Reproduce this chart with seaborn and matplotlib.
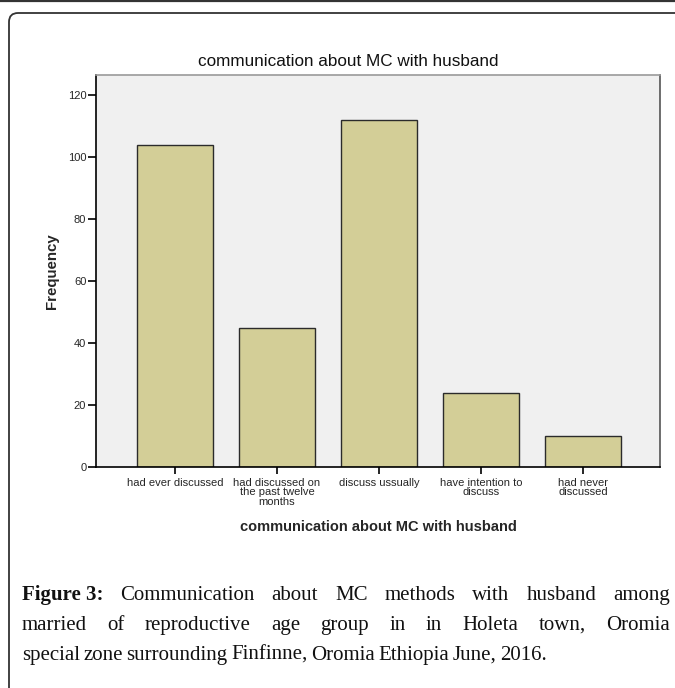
import matplotlib
matplotlib.use("Agg")
import matplotlib.pyplot as plt
import seaborn as sns
from matplotlib.patches import FancyBboxPatch
from matplotlib.lines import Line2D
from matplotlib.transforms import IdentityTransform

# data
categories = ["had ever discussed",
              "had discussed on\nthe past twelve\nmonths",
              "discuss ussually",
              "have intention to\ndiscuss",
              "had never\ndiscussed"]
frequency = [104, 45, 112, 24, 10]
yticks = [0, 20, 40, 60, 80, 100, 120]

title = "communication about MC with husband"
caption_lines = [
    [("Figure 3:", "bold"), ("Communication", "normal"), ("about", "normal"),
     ("MC", "normal"), ("methods", "normal"), ("with", "normal"),
     ("husband", "normal"), ("among", "normal")],
    [(w, "normal") for w in "married of reproductive age group in in Holeta town, Oromia".split()],
    [(w, "normal") for w in "special zone surrounding Finfinne, Oromia Ethiopia June, 2016.".split()],
]

W, H = 675, 688
sns.set_style("white")
plt.rcParams["font.family"] = ["Liberation Sans", "DejaVu Sans"]

fig = plt.figure(figsize=(W / 100, H / 100), dpi=100)
fig.patch.set_facecolor("white")

# outer frame (top rule + rounded box)
fig.add_artist(Line2D([0, W], [H - 1, H - 1], transform=IdentityTransform(),
                      color="#333333", lw=1.6))
frame = FancyBboxPatch((9, -40), W + 40, H - 13 + 40,
                       boxstyle="round,pad=0,rounding_size=9",
                       transform=IdentityTransform(), fc="none",
                       ec="#333333", lw=1.3)
fig.add_artist(frame)

ax = fig.add_axes([96 / W, 1 - 467 / H, (660 - 96) / W, (467 - 75) / H])
ax.set_facecolor("#F0F0F0")

sns.barplot(x=categories, y=frequency, ax=ax, color="#D3CE97",
            saturation=1, width=0.745, edgecolor="#2b2b2b", linewidth=1.0)

ax.set_xlim(-0.775, 4.755)
ax.set_ylim(0, 126.5)
ax.set_yticks(yticks)
ax.tick_params(axis="both", direction="out", length=5.5, width=1.2,
               color="black", labelsize=8, pad=1.5, bottom=True, left=True)
ax.tick_params(axis="x", length=5, pad=3)
for lab in ax.get_xticklabels():
    lab.set_linespacing(0.9)

for side in ["left", "bottom"]:
    ax.spines[side].set_color("black")
    ax.spines[side].set_linewidth(1.2)
ax.spines["top"].set_color("#9a9a9a")
ax.spines["right"].set_color("#555555")
for side in ["top", "right"]:
    ax.spines[side].set_visible(True)
    ax.spines[side].set_linewidth(1.2)

ax.set_ylabel("Frequency", fontsize=10.8, fontweight="bold")
ax.set_xlabel(title, fontsize=10.5, fontweight="bold")
ax.xaxis.set_label_coords(0.5, -(527 - 467) / (467 - 75))
ax.yaxis.set_label_coords(-(96 - 52) / (660 - 96), 0.5)
ax.xaxis.label.set_va("center")
ax.yaxis.label.set_va("center")

fig.text(348 / W, 1 - 62 / H, title, ha="center", va="center",
         fontsize=12.3, color="#111111")

# caption, justified like the page text
serif = ["Liberation Serif", "DejaVu Serif"]
cap_size = 15
x_left, x_right = 22, 670
baselines = [600, 630, 660]
fig.canvas.draw()
renderer = fig.canvas.get_renderer()


def word_width(word, weight):
    t = fig.text(0, 0, word, fontsize=cap_size, family=serif, fontweight=weight)
    w = t.get_window_extent(renderer).width
    t.remove()
    return w


for i, (words, y) in enumerate(zip(caption_lines, baselines)):
    widths = [word_width(w, wt) for w, wt in words]
    if i < len(caption_lines) - 1:
        gap = (x_right - x_left - sum(widths)) / (len(words) - 1)
    else:
        gap = 3.5
    x = x_left
    for (w, wt), wd in zip(words, widths):
        fig.text(x / W, 1 - y / H, w, fontsize=cap_size, family=serif,
                 fontweight=wt, ha="left", va="baseline", color="#111111")
        x += wd + gap

fig.savefig("out.png", dpi=100)
